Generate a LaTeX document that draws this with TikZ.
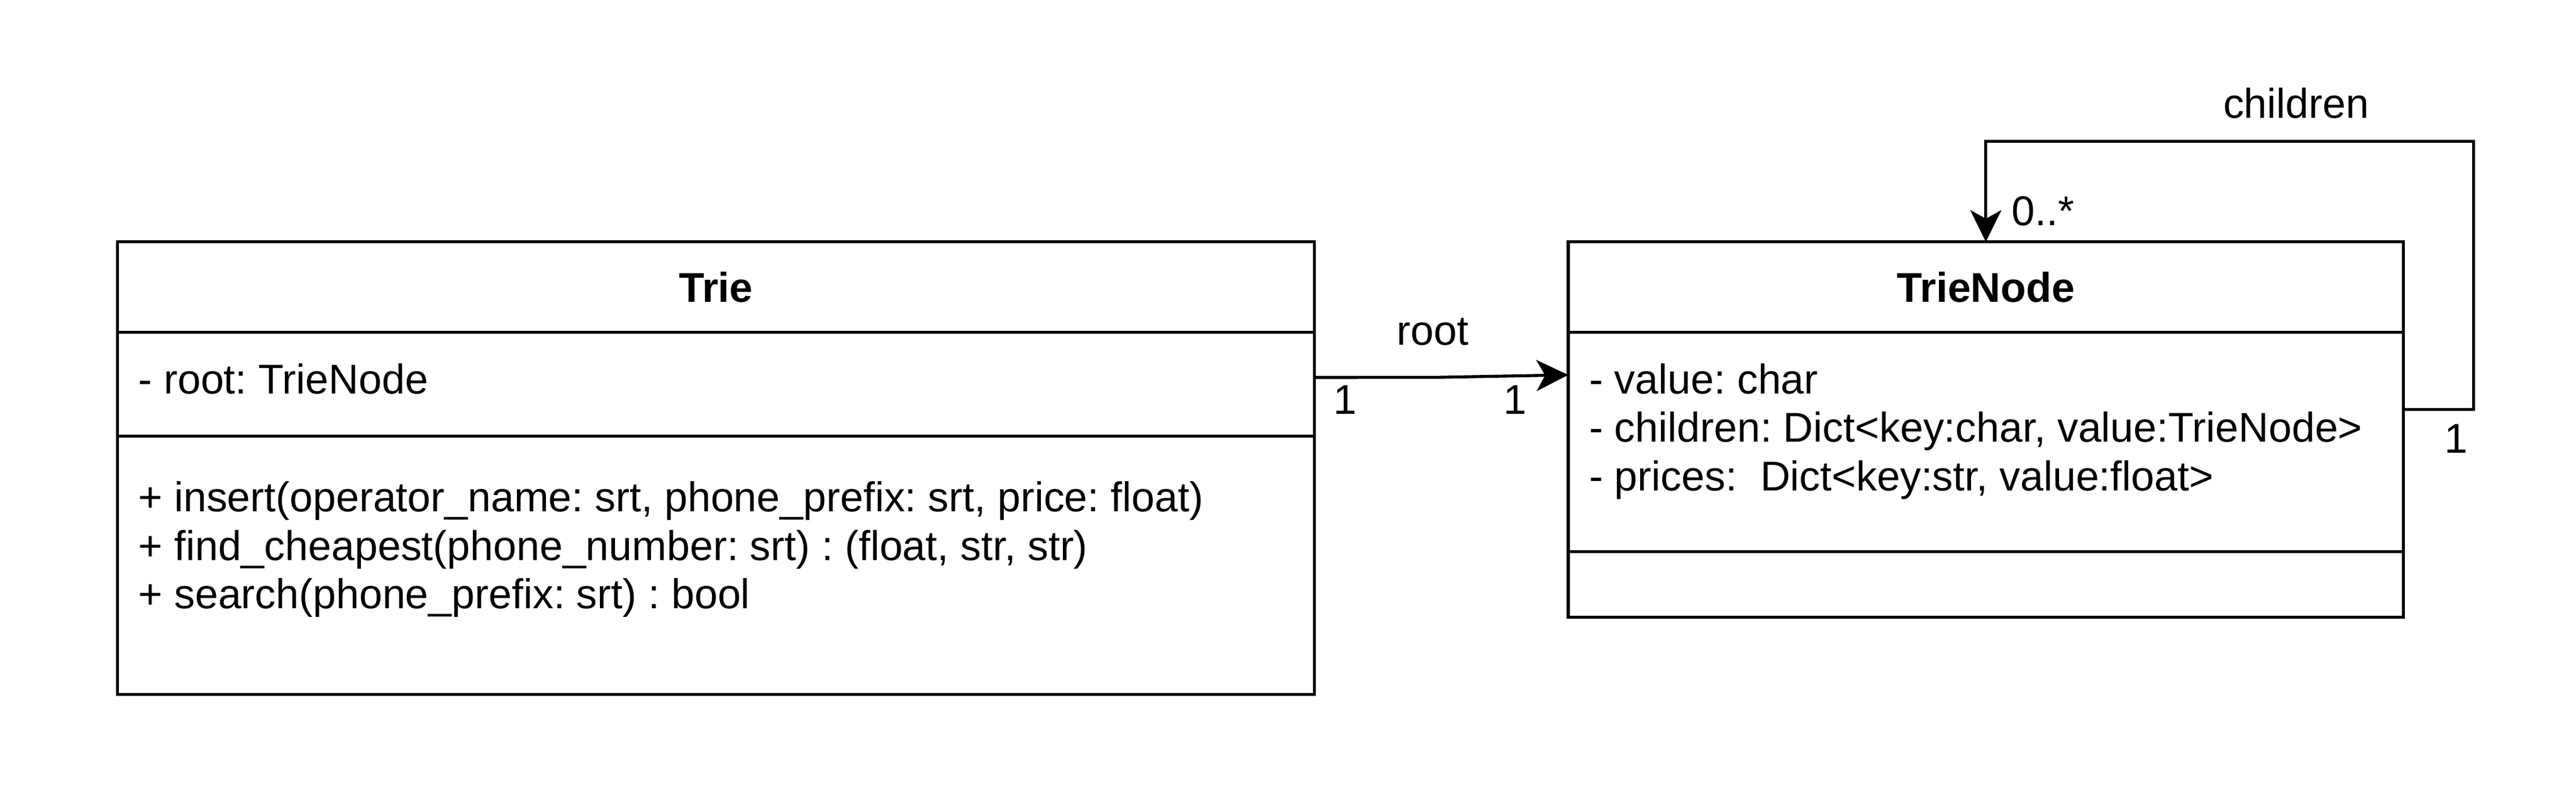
\documentclass[tikz,border=0pt]{standalone}
\usepackage{fontspec}
\setmainfont{Liberation Sans}
\usepackage{tikz}
\usetikzlibrary{positioning,arrows.meta}
\frenchspacing

\begin{document}
\begin{tikzpicture}
		[
		x = 0.5pt, y = -0.5pt,
		compart/.style = {draw, line width = 0.9pt, inner sep = 0pt, outer sep = 0pt, font = \fontsize{12.6}{15}\selectfont\bfseries},
		member/.style = {inner sep = 0pt, anchor = base west, font = \fontsize{12.6}{15}\selectfont},
		lbl/.style = {inner sep = 0pt, anchor = base, font = \fontsize{12.6}{15}\selectfont},
		assoc/.style = {line width = 0.9pt, -{Stealth[length = 9.6pt, width = 9.4pt, inset = 2.6pt]}}
		]
		
		\useasboundingbox (0,0) rectangle (1560,486.97);
		
		\node [compart, anchor = north west, minimum width = 362.35pt, minimum height = 27.4pt] (triehead) at (71.2,146.4) {Trie};
		\node [compart, below = 0pt of triehead, minimum width = 362.35pt, minimum height = 31.45pt] (trieattr) {};
		\node [compart, below = 0pt of trieattr, minimum width = 362.35pt, minimum height = 78.2pt] (triemeth) {};
		
		\node [compart, anchor = north west, minimum width = 252.9pt, minimum height = 27.4pt] (tnhead) at (949.7,146.4) {TrieNode};
		\node [compart, below = 0pt of tnhead, minimum width = 252.9pt, minimum height = 66.35pt] (tnattr) {};
		\node [compart, below = 0pt of tnattr, minimum width = 252.9pt, minimum height = 19.95pt] (tnmeth) {};
		
		\node [member] (rootattr) at (83.4,238.3) {- root: TrieNode};
		\node [member] (insert) at (83.4,309.8) {+ insert(operator\_name: srt, phone\_prefix: srt, price: float)};
		\node [member] (cheapest) at (83.4,339.1) {+ find\_cheapest(phone\_number: srt) : (float, str, str)};
		\node [member] (search) at (83.4,368.4) {+ search(phone\_prefix: srt) : bool};
		
		\node [member] (valueattr) at (962,238.3) {- value: char};
		\node [member] (childattr) at (962,267.6) {- children: Dict<key:char, value:TrieNode>};
		\node [member] (priceattr) at (962,296.9) {- prices:\ \ Dict<key:str, value:float>};
		
		\draw [assoc] ([yshift = 2.1pt]trieattr.east) -- (871.8,228.4) -- ([yshift = 20.3pt]tnattr.west);
		\node [lbl] (rootlbl) at (867.6,208.7) {root};
		\node [lbl] (rootsrc) at (814.5,250.6) {1};
		\node [lbl] (rootdst) at (917.7,250.6) {1};
		
		\coordinate (loopcorner) at (1497.9,85.5);
		\draw [assoc] ([yshift = 9.9pt]tnattr.east) -| (loopcorner) -| (tnhead.north);
		\node [lbl] (childlbl) at (1390.5,71.4) {children};
		\node [member] (childdst) at (1218,136.4) {0..*};
		\node [lbl] (childsrc) at (1487.3,274.1) {1};
		
\end{tikzpicture}
\end{document}
